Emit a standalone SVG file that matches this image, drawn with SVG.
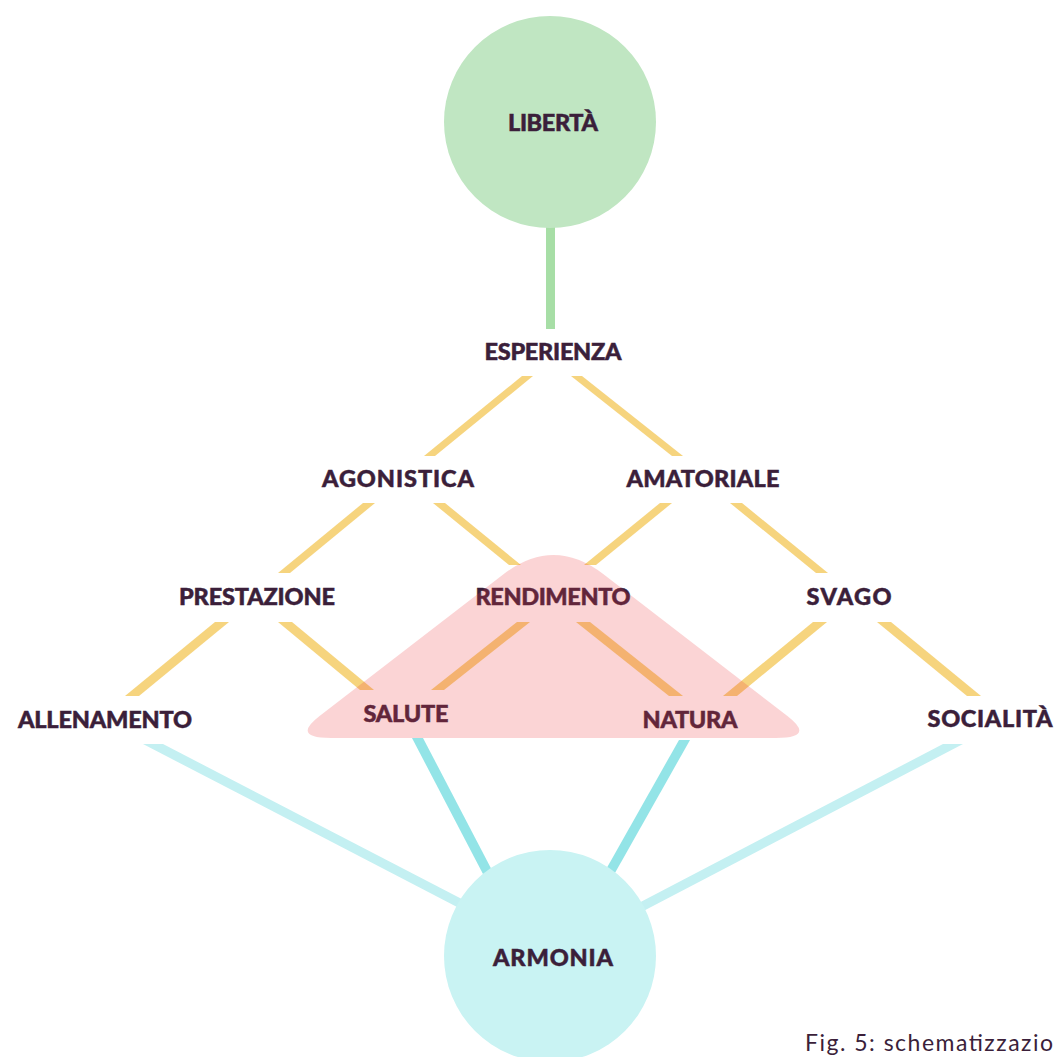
<svg xmlns="http://www.w3.org/2000/svg" width="1056" height="1057" viewBox="0 0 1056 1057">
<style>
.lbl{font-family:Lato,"Liberation Sans",sans-serif;font-weight:900;font-size:23.5px;fill:#3b1f3a;text-anchor:middle;stroke:#3b1f3a;stroke-width:0.5px}
.y{fill:#f6d47e}
.cl{fill:#c4f0f2}
.cd{fill:#93e4e7}
.cap{font-family:Lato,"Liberation Sans",sans-serif;font-weight:400;font-size:23px;fill:#3b1f3a}
</style>
<rect width="1056" height="1057" fill="#ffffff"/>
<g id="connectors">
<rect x="546" y="226" width="9" height="103" fill="#a7dea6"/>
<polygon class="y" points="522,376 533,376 435,456 424,456"/>
<polygon class="y" points="571,376 582,376 683,456 672,456"/>
<polygon class="y" points="363,503 375,503 290,573 278,573"/>
<polygon class="y" points="433,503 445,503 521,565 509,565"/>
<polygon class="y" points="660,503 672,503 596,565 584,565"/>
<polygon class="y" points="730,503 742,503 828,573 816,573"/>
<polygon class="y" points="215,622 229,622 139,696 125,696"/>
<polygon class="y" points="278,622 292,622 374,690 360,690"/>
<polygon class="y" points="517,622 530,622 444,690 431,690"/>
<polygon class="y" points="576,622 590,622 683,696 669,696"/>
<polygon class="y" points="813,622 827,622 737,696 723,696"/>
<polygon class="y" points="877,622 891,622 981,696 967,696"/>
<polygon class="cl" points="143,744 163,744 562,951 542,951"/>
<polygon class="cl" points="943,744 963,744 563,953 543,953"/>
<polygon class="cd" points="412,738 423,738 518,920 507,920"/>
<polygon class="cd" points="679,740 690,740 589,919 578,919"/>
</g>
<g id="liberta"><circle cx="550" cy="122" r="106" fill="#c0e6c2"/><text class="lbl" x="553" y="131" textLength="90" lengthAdjust="spacing">LIBERTÀ</text></g>
<g id="armonia"><circle cx="550" cy="956" r="106" fill="#c9f3f3"/><text class="lbl" x="553" y="966" textLength="120" lengthAdjust="spacing">ARMONIA</text></g>
<g id="esperienza"><text class="lbl" x="553" y="360" textLength="137" lengthAdjust="spacing">ESPERIENZA</text></g>
<g id="agonistica"><text class="lbl" x="398" y="487" textLength="152" lengthAdjust="spacing">AGONISTICA</text></g>
<g id="amatoriale"><text class="lbl" x="703" y="487" textLength="153" lengthAdjust="spacing">AMATORIALE</text></g>
<g id="prestazione"><text class="lbl" x="257" y="605" textLength="156" lengthAdjust="spacing">PRESTAZIONE</text></g>
<g id="rendimento"><text class="lbl" x="553" y="605" textLength="155" lengthAdjust="spacing">RENDIMENTO</text></g>
<g id="svago"><text class="lbl" x="849" y="605" textLength="85" lengthAdjust="spacing">SVAGO</text></g>
<g id="allenamento"><text class="lbl" x="105" y="728" textLength="174" lengthAdjust="spacing">ALLENAMENTO</text></g>
<g id="salute"><text class="lbl" x="406" y="722" textLength="85" lengthAdjust="spacing">SALUTE</text></g>
<g id="natura"><text class="lbl" x="690" y="728" textLength="95" lengthAdjust="spacing">NATURA</text></g>
<g id="socialita"><text class="lbl" x="990" y="727" textLength="125" lengthAdjust="spacing">SOCIALITÀ</text></g>
<g id="highlight"><path d="M503.8,574 Q553.5,536 603.2,574 L787.4,716 Q816,738 776,738 L331,738 Q291,738 319.6,716 Z" fill="#ec3a41" fill-opacity="0.22"/></g>
<text class="cap" x="805" y="1051" textLength="248" lengthAdjust="spacing">Fig. 5: schematizzazio</text>
</svg>
